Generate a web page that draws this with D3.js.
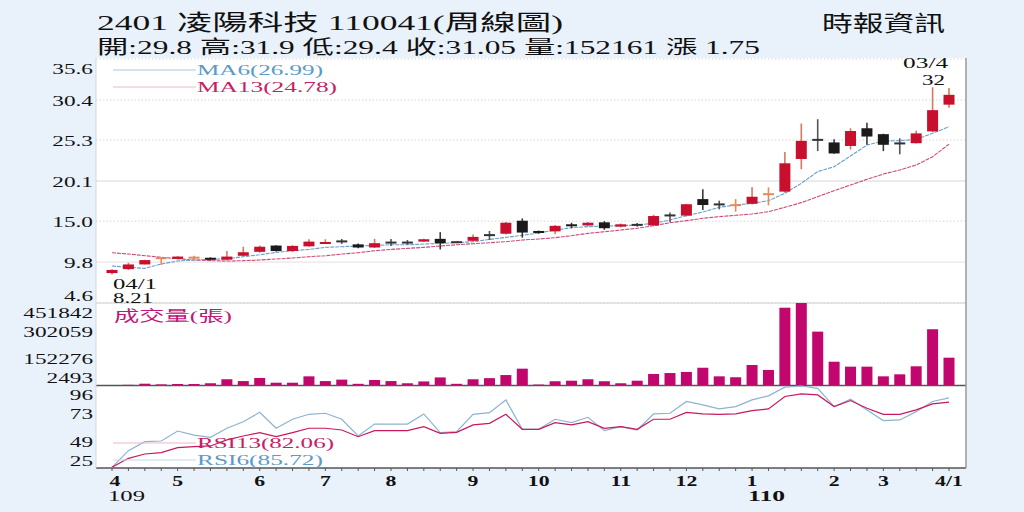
<!DOCTYPE html>
<html><head><meta charset="utf-8">
<script src="https://cdn.jsdelivr.net/npm/d3@7"></script>
<style>body{margin:0;background:#e9f2fb;overflow:hidden}svg{display:block}</style>
</head><body><svg id="c" width="1024" height="512"></svg>
<script>
// ---------- data ----------
const openP  = [8.4,8.9,9.5,10.28,10.2,10.35,10.35,10.1,10.6,11.1,11.9,11.2,11.8,12.15,12.45,12.05,11.65,12.3,12.3,12.4,12.75,12.35,12.5,13.25,13.4,15.05,13.75,13.7,14.6,14.45,14.85,14.3,14.55,14.45,15.75,15.7,17.8,17.15,17.0,17.2,18.4,18.75,22.9,25.35,25.0,24.55,26.8,26.05,24.9,24.9,26.4,29.8];
const highP  = [8.9,9.72,10.1,10.3,10.55,10.6,10.4,11.2,11.75,11.9,11.95,11.95,12.7,12.7,12.73,12.15,12.75,12.73,12.6,12.75,13.6,12.4,13.3,13.75,14.9,15.35,13.8,14.5,14.8,14.9,15.0,14.7,14.75,15.8,16.1,17.2,19.05,17.6,17.8,19.3,19.3,23.8,27.4,27.95,25.4,26.8,27.5,26.1,25.52,26.5,32.0,31.9];
const lowP   = [8.21,8.8,9.5,9.43,10.15,10.06,10.0,10.0,10.55,11.0,11.15,11.1,11.75,12.1,12.1,11.55,11.6,11.84,12.0,12.35,11.4,12.25,12.4,12.6,13.3,12.9,13.4,13.35,14.1,14.4,13.9,14.2,14.3,14.4,14.85,15.6,16.4,16.5,16.2,17.1,17.0,18.6,21.6,23.9,23.55,24.1,24.7,23.9,23.49,24.85,26.3,29.4];
const closeP = [8.8,9.5,10.05,10.3,10.5,10.37,10.1,10.5,11.05,11.75,11.2,11.85,12.4,12.35,12.4,11.65,12.2,12.25,12.25,12.7,12.2,12.3,13.0,13.2,14.8,13.55,13.55,14.4,14.35,14.8,14.1,14.6,14.5,15.65,15.7,17.15,17.05,17.1,17.05,18.1,18.45,22.35,25.2,25.3,23.6,26.45,25.75,24.7,24.85,26.15,29.1,31.05];
const volume = [2493,3500,9600,6000,8000,8000,12000,34000,24000,41000,15000,15000,50000,24000,32000,9000,30000,24000,12000,22000,44000,9000,34000,40000,57000,92000,5000,23000,26000,34000,23000,12000,26000,63000,68000,74000,97000,50000,45000,112000,85000,426000,451842,295000,130000,103000,103000,50000,61000,105000,308000,152161];
const ma6  = [9.3,9.13,9.0,9.55,9.94,10.06,10.15,10.23,10.48,10.73,11.03,11.24,11.41,11.67,11.75,11.84,11.92,12.0,12.0,12.09,12.17,12.26,12.39,12.68,12.94,13.2,13.5,13.87,14.17,14.3,14.38,14.42,14.51,14.72,15.15,15.7,16.16,16.76,17.05,17.26,17.6,18.53,19.8,21.29,21.92,23.28,24.67,25.18,25.22,25.39,26.16,26.99];
const ma13 = [10.99,10.82,10.61,10.4,10.23,10.06,9.98,9.93,9.98,10.06,10.19,10.31,10.48,10.61,10.82,10.99,11.24,11.41,11.54,11.67,11.84,12.0,12.13,12.26,12.39,12.6,12.73,12.9,13.15,13.45,13.66,13.87,14.09,14.42,14.8,15.06,15.36,15.57,15.74,15.91,16.2,16.76,17.35,18.11,18.87,19.59,20.31,20.99,21.5,22.13,23.19,24.78];
const rsi6  = [25.6,40,47.8,48.4,57,53.5,51.6,59.4,65.1,73.2,59.4,67.2,71.5,72.4,67.2,52.7,63,63,63,71.8,55.6,56.5,71.5,72.9,83.9,58.5,58.5,67.2,64.3,68.9,57.3,60.8,57.9,71.8,72.4,82.6,79.6,76.2,78.2,84.0,87.5,95,96,94.0,78.2,84.5,75.3,66.1,66.6,73.8,82.6,85.72];
const rsi13 = [25.6,33.4,37.1,38.3,42.6,43.5,44.1,49.3,52.7,55.6,52.1,55.6,59.4,59.4,57.9,52.1,57.3,57.3,57.3,60.8,55,55.9,62.3,63.7,71.5,58.5,58.5,64.3,62.3,65.1,59.4,60.8,58.5,67.2,67.2,73.2,71.8,71.5,71.8,74.7,76.2,86.9,89.2,88.3,78.2,83.4,76.7,71.5,71.5,75.3,80.5,82.06];
const priceTicks = [35.6,30.4,25.3,20.1,15.0,9.8,4.6];
const volumeTicks = [451842,302059,152276,2493];
const rsiTicks = [96,73,49,25];
const monthLabels = ["4","5","6","7","8","9","10","11","12","1","2","3","4/1"];
const monthWeek   = [0,4,9,13,17,22,26,31,35,39,44,47,51];
const yearLabels = ["109","110"];
const yearWeek   = [0,39];
const lowDate = "04/1", highDate = "03/4";
const titleText = "2401  凌陽科技 110041(周線圖)";
const quoteText = "開:29.8 高:31.9 低:29.4 收:31.05 量:152161 漲 1.75";
const sourceText = "時報資訊";

// ---------- scales ----------
const N = closeP.length;
const x  = d3.scaleLinear().domain([0, N-1]).range([112, 949]);
const yP = d3.scaleLinear().domain([4.6, 35.6]).range([303, 59]);
const yV = d3.scaleLinear().domain([2493, 451842]).range([385, 303]);
const yR = d3.scaleLinear().domain([25, 96]).range([468, 386]);

const svg = d3.select("#c");
const FONT = "'Liberation Serif','Noto Sans CJK TC',serif";

svg.append("rect").attr("width",1024).attr("height",512).attr("fill","#e9f2fb");
svg.append("rect").attr("x",96).attr("y",58).attr("width",870).attr("height",410).attr("fill","#fff");

function txt(o){
  const t = svg.append("text")
    .attr("x",o.x).attr("y",o.y)
    .attr("font-family",FONT).attr("font-size",o.size||15)
    .attr("fill",o.fill||"#111")
    .attr("text-anchor",o.anchor||"start")
    .attr("font-weight",o.weight||"normal")
    .text(o.text);
  if(o.dy) t.attr("dy",o.dy);
  if(o.len) t.attr("textLength",o.len).attr("lengthAdjust","spacingAndGlyphs");
  return t;
}
function stretched(g, xx, yy, s, sx, opt){
  return g.append("text")
    .attr("transform",`translate(${xx},${yy}) scale(${sx},1)`)
    .attr("font-family",FONT).attr("font-size",opt.size||15)
    .attr("font-weight",opt.weight||"normal")
    .attr("fill",opt.fill||"#111")
    .attr("text-anchor",opt.anchor||"end")
    .attr("dy","0.35em").text(s);
}
const clamp = (v,lo,hi)=>Math.max(lo,Math.min(hi,v));

// ---------- grid ----------
const grid = svg.append("g");
priceTicks.forEach(p=>{
  const solid = (p===20.1||p===9.8);
  grid.append("line").attr("x1",96).attr("x2",966).attr("y1",yP(p)).attr("y2",yP(p))
    .attr("stroke", p===9.8?"#e6dede":"#d6d6d6").attr("stroke-width",1)
    .attr("stroke-dasharray", solid?null:"1.5,2");
});
grid.append("line").attr("x1",96).attr("x2",966).attr("y1",yV(451842)).attr("y2",yV(451842)).attr("stroke","#cfcfcf");
grid.append("line").attr("x1",96).attr("x2",966).attr("y1",yV(2493)+0.5).attr("y2",yV(2493)+0.5).attr("stroke","#555").attr("stroke-width",1.5);
grid.append("line").attr("x1",96).attr("x2",966).attr("y1",yR(25)).attr("y2",yR(25)).attr("stroke","#555").attr("stroke-width",1.5);
grid.append("line").attr("x1",96).attr("x2",96).attr("y1",58).attr("y2",468).attr("stroke","#cdd9e6");
grid.append("line").attr("x1",966).attr("x2",966).attr("y1",58).attr("y2",468).attr("stroke","#9a9a9a").attr("stroke-width",1.5);
d3.range(N).forEach(i=>{
  grid.append("line").attr("x1",x(i)).attr("x2",x(i)).attr("y1",yR(25)).attr("y2",yR(25)+3).attr("stroke","#555");
});

// ---------- axes labels ----------
const ax = svg.append("g");
priceTicks.forEach(p=>stretched(ax,93,clamp(yP(p)+1,69,296),p.toFixed(1),1.55,{}));
volumeTicks.forEach(v=>stretched(ax,93,clamp(yV(v)+1.5,313,378),String(v),1.55,{}));
rsiTicks.forEach(r=>stretched(ax,93,clamp(yR(r)+1.5,395,461),String(r),1.55,{}));
monthLabels.forEach((m,k)=>stretched(ax,x(monthWeek[k])+(k===0?3:0),481,m,1.45,{anchor:"middle",weight:"bold"}));
yearLabels.forEach((m,k)=>txt({x:x(yearWeek[k])-4,y:496,dy:"0.35em",text:m,size:15,len:37,weight:k?"bold":"normal"}));

// ---------- volume ----------
svg.append("g").selectAll("rect").data(volume).join("rect")
  .attr("x",(d,i)=>x(i)-5.5).attr("width",11)
  .attr("y",d=>yV(d)).attr("height",d=>yV(2493)-yV(d))
  .attr("fill","#c1066d");

// ---------- MA lines ----------
const lineP = d3.line().x((d,i)=>x(i)).y(d=>yP(d));
svg.append("path").attr("d",lineP(ma13)).attr("fill","none").attr("stroke","#cc4a7c").attr("stroke-width",1.1).attr("stroke-dasharray","4,1");
svg.append("path").attr("d",lineP(ma6)).attr("fill","none").attr("stroke","#6a9fca").attr("stroke-width",1.1).attr("stroke-dasharray","4,1");

// ---------- candles ----------
const cg = svg.append("g");
d3.range(N).forEach(i=>{
  const o=openP[i],c=closeP[i],h=highP[i],l=lowP[i];
  const cx = x(i);
  const cross = Math.abs(c-o) < 0.1;
  const up = c>=o;
  let body, wick;
  if(cross){ body = up?"#e58a5a":"#333"; wick = up?"#e58a5a":"#555"; }
  else { body = up?"#c8102e":"#1a1a1a"; wick = up?"#d9765f":"#3a3a3a"; }
  cg.append("line").attr("x1",cx).attr("x2",cx).attr("y1",yP(h)).attr("y2",yP(l))
    .attr("stroke",wick).attr("stroke-width",1.6);
  if(cross){
    cg.append("rect").attr("x",cx-5.5).attr("width",11).attr("y",yP((o+c)/2)-1).attr("height",2).attr("fill",body);
  } else {
    const top = yP(Math.max(o,c)), bot = yP(Math.min(o,c));
    cg.append("rect").attr("x",cx-5.5).attr("width",11).attr("y",top).attr("height",Math.max(2,bot-top)).attr("fill",body);
  }
});

// ---------- RSI lines ----------
const lineR = d3.line().x((d,i)=>x(i)).y(d=>yR(d));
svg.append("path").attr("d",lineR(rsi6)).attr("fill","none").attr("stroke","#8db3d0").attr("stroke-width",1.2);
svg.append("path").attr("d",lineR(rsi13)).attr("fill","none").attr("stroke","#c8185e").attr("stroke-width",1.2);

// ---------- legends ----------
const legend = [
  {y:70,  text:`MA6(${ma6[N-1].toFixed(2)})`,  col:"#5b9bc6", line:"#a9c7dd", len:126},
  {y:87,  text:`MA13(${ma13[N-1].toFixed(2)})`, col:"#c81e66", line:"#e7b9cc", len:140},
  {y:443, text:`RSI13(${rsi13[N-1].toFixed(2)})`, col:"#c81e66", line:"#e7b9cc", len:137},
  {y:460, text:`RSI6(${rsi6[N-1].toFixed(2)})`,  col:"#5b9bc6", line:"#c3d7e6", len:126}
];
legend.forEach(l=>{
  svg.append("line").attr("x1",113).attr("x2",196).attr("y1",l.y).attr("y2",l.y).attr("stroke",l.line).attr("stroke-width",1);
  txt({x:197,y:l.y,dy:"0.35em",text:l.text,size:15,fill:l.col,len:l.len});
});
txt({x:114,y:316,dy:"0.35em",text:"成交量(張)",size:15,fill:"#c0187a",len:118});

// ---------- annotations ----------
const iLow = d3.minIndex(lowP), iHigh = d3.maxIndex(highP);
txt({x:x(iLow)+1,y:284,dy:"0.35em",text:lowDate,size:15,len:44});
txt({x:x(iLow)+1,y:298,dy:"0.35em",text:d3.format("~g")(lowP[iLow]),size:15,len:40});
txt({x:x(iHigh)-7,y:63,dy:"0.35em",text:highDate,size:15,anchor:"middle",len:45});
txt({x:x(iHigh)+1,y:80,dy:"0.35em",text:d3.format("~g")(highP[iHigh]),size:15,anchor:"middle",len:23});

// ---------- titles ----------
txt({x:97,y:30,text:titleText,size:22,len:466});
txt({x:97,y:54,text:quoteText,size:19,len:663});
txt({x:822,y:31,text:sourceText,size:22,len:123});
</script></body></html>
